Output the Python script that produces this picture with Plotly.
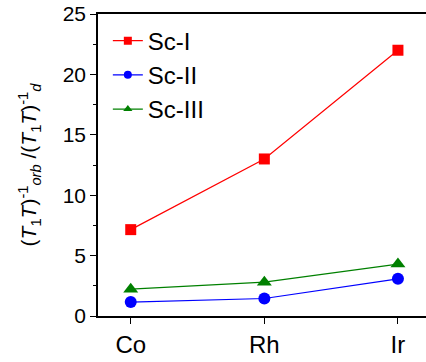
import plotly.graph_objects as go

categories = ["Co", "Rh", "Ir"]
sc1 = [7.15, 13.0, 22.0]
sc2 = [1.15, 1.45, 3.08]
sc3 = [2.22, 2.8, 4.3]
names = ["Sc-I", "Sc-II", "Sc-III"]
colors = ["#ff0000", "#0000ff", "#008000"]
symbols = ["square", "circle", "triangle-up"]
sizes = [11, 12, 13]
y_ticks = [0, 5, 10, 15, 20, 25]

fig = go.Figure()
for vals, name, c, s, sz in zip([sc1, sc2, sc3], names, colors, symbols, sizes):
    fig.add_trace(go.Scatter(x=categories, y=vals, mode="lines+markers", name=name,
                             line=dict(color=c, width=1.2),
                             marker=dict(symbol=s, size=sz, color=c),
                             showlegend=False))
for name, c, s in zip(names, colors, symbols):
    fig.add_trace(go.Scatter(x=[None], y=[None], mode="lines+markers", name=name,
                             line=dict(color=c, width=1.2),
                             marker=dict(symbol=s, size=8, color=c)))

fig.update_layout(
    width=426, height=362,
    margin=dict(l=98, r=0, t=14, b=46, autoexpand=False),
    paper_bgcolor="white", plot_bgcolor="white",
    font=dict(family="Liberation Sans, Arial, sans-serif", color="black"),
    legend=dict(x=0.03, y=0.985, xanchor="left", yanchor="top",
                font=dict(size=24), bgcolor="rgba(0,0,0,0)",
                itemsizing="trace", tracegroupgap=0),
    xaxis=dict(type="category", range=[-0.245, 2.21],
               showline=True, linecolor="black", linewidth=1.5, mirror=True,
               ticks="outside", ticklen=6, tickwidth=1, tickcolor="black",
               tickfont=dict(size=24), showgrid=False, zeroline=False),
    yaxis=dict(range=[0, 25], tickvals=y_ticks,
               showline=True, linecolor="black", linewidth=1.5, mirror=False,
               ticks="outside", ticklen=6, tickwidth=1, tickcolor="black",
               minor=dict(dtick=2.5, ticks="outside", ticklen=3, tickcolor="black"),
               tickfont=dict(size=21), showgrid=False, zeroline=False,
               title=dict(text="(<i>T</i><sub>1</sub><i>T</i>)<sup>-1</sup><sub><i>orb</i></sub> /(<i>T</i><sub>1</sub><i>T</i>)<sup>-1</sup><sub><i>d</i></sub>",
                          font=dict(size=21), standoff=20)),
)
fig.write_html("out.html")
